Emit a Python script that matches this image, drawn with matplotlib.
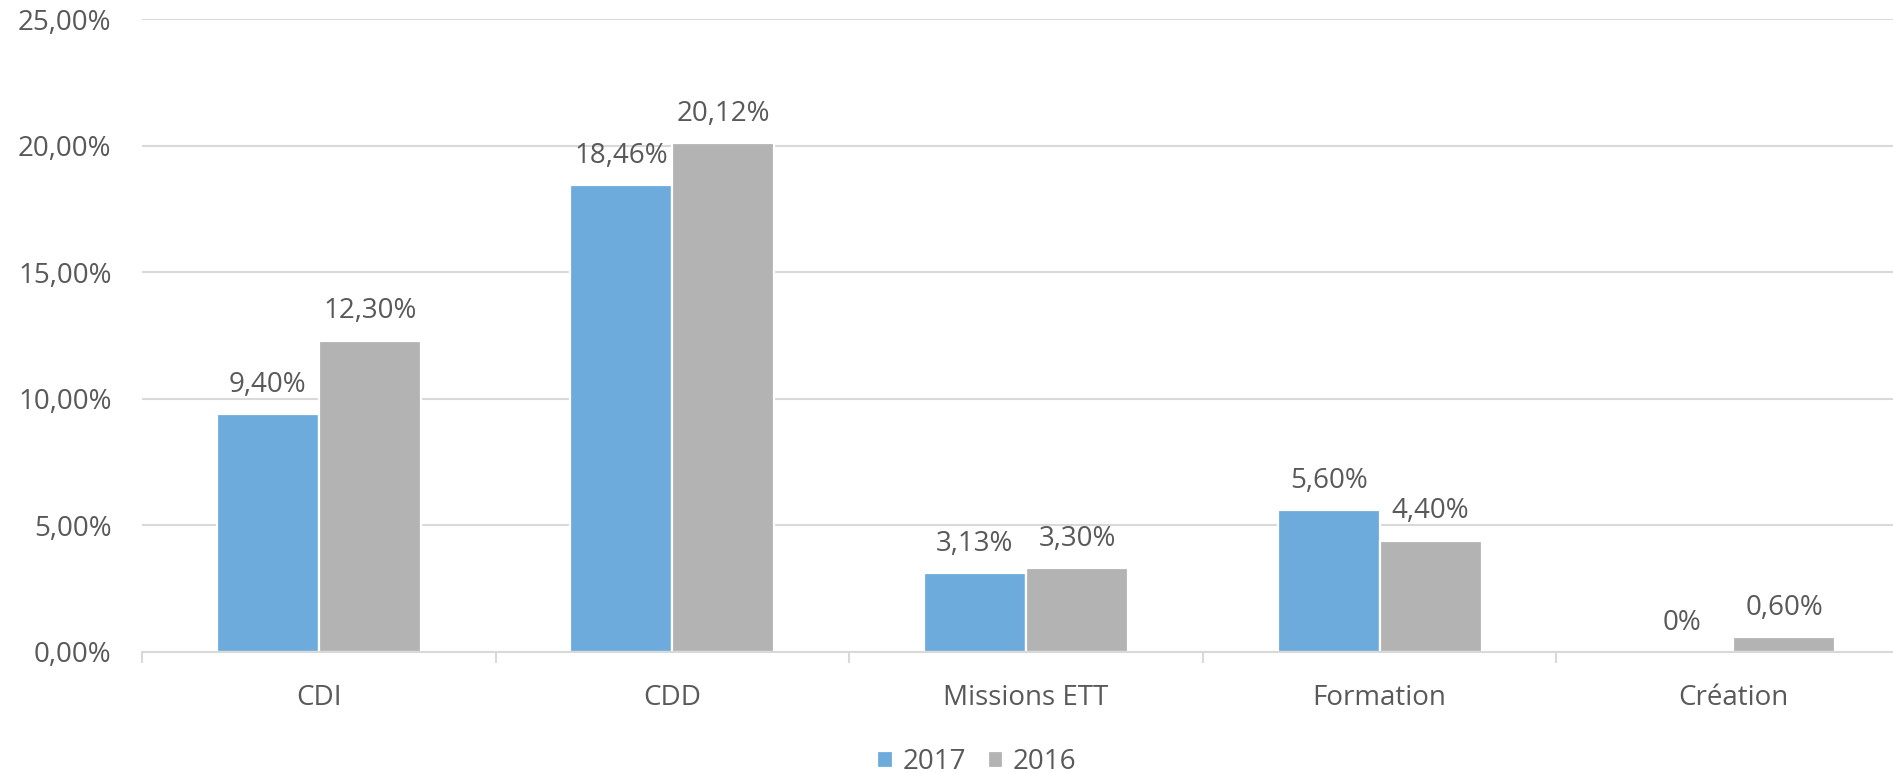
import matplotlib
matplotlib.use("Agg")
import matplotlib.pyplot as plt
import numpy as np
from matplotlib.ticker import FixedLocator, FuncFormatter

categories = ["CDI", "CDD", "Missions ETT", "Formation", "Création"]
values_2017 = [9.40, 18.46, 3.13, 5.60, 0.0]
values_2016 = [12.30, 20.12, 3.30, 4.40, 0.60]
labels_2017 = ["9,40%", "18,46%", "3,13%", "5,60%", "0%"]
labels_2016 = ["12,30%", "20,12%", "3,30%", "4,40%", "0,60%"]
series_names = ["2017", "2016"]

plt.rcParams['font.family'] = ['Open Sans', 'DejaVu Sans']
text_color = "#595959"
blue = "#6DABDD"
gray = "#B3B3B3"
grid_color = "#D9D9D9"
fs = 20

fig = plt.figure(figsize=(18.93, 7.73), dpi=100)
ax = fig.add_axes([142/1893, 1 - 652/773, 1768/1893, (652 - 19.3)/773])

x = np.arange(len(categories))
w = 0.2886
off = 0.1443
b1 = ax.bar(x - off, values_2017, width=w, color=blue, edgecolor="white", linewidth=1.6, label=series_names[0], zorder=3)
b2 = ax.bar(x + off, values_2016, width=w, color=gray, edgecolor="white", linewidth=1.6, label=series_names[1], zorder=3)

for bars, labs in ((b1, labels_2017), (b2, labels_2016)):
    for rect, lab in zip(bars, labs):
        ax.annotate(lab, (rect.get_x() + rect.get_width()/2, rect.get_height()),
                    xytext=(0, 11), textcoords="offset points", ha="center", va="bottom",
                    fontsize=fs, color=text_color)

ax.set_xlim(-0.5, len(categories) - 0.5)
ax.set_ylim(0, 25)
ax.set_yticks([0, 5, 10, 15, 20, 25])
ax.yaxis.set_major_formatter(FuncFormatter(lambda v, p: f"{v:.2f}".replace(".", ",") + "%"))
ax.grid(axis="y", color=grid_color, linewidth=1.5, zorder=0)

ax.set_xticks(x)
ax.set_xticklabels(categories)
ax.xaxis.set_minor_locator(FixedLocator(np.arange(-0.5, len(categories), 1.0)))
ax.tick_params(axis="x", which="major", length=0, pad=23, labelsize=fs, labelcolor=text_color)
ax.tick_params(axis="x", which="minor", length=8, width=1.5, color=grid_color, direction="out")
ax.tick_params(axis="y", length=0, pad=22, labelsize=fs, labelcolor=text_color)

for s in ["top", "right", "left"]:
    ax.spines[s].set_visible(False)
ax.spines["bottom"].set_color(grid_color)
ax.spines["bottom"].set_linewidth(1.5)
ax.spines["bottom"].set_zorder(4)

leg = fig.legend(handles=[b1, b2], labels=series_names, loc="center", bbox_to_anchor=(977/1893, 1 - 762/773),
                 ncol=2, frameon=False, fontsize=fs, handlelength=0.55, handleheight=0.55,
                 handletextpad=0.35, columnspacing=0.8, labelcolor=text_color)
for h in leg.legend_handles:
    h.set_edgecolor("white")

fig.savefig("out.png", dpi=100)
